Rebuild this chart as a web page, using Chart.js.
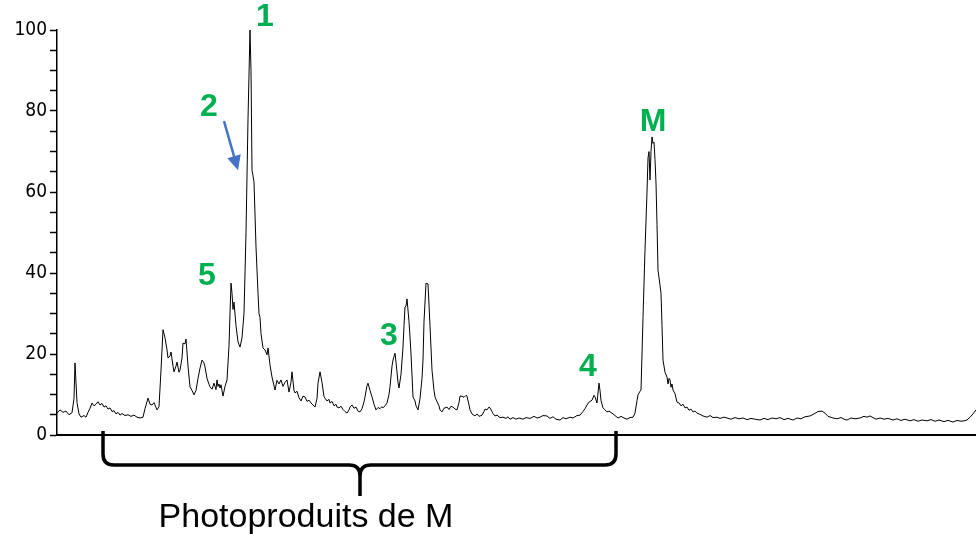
<!DOCTYPE html>
<html lang="fr">
<head>
<meta charset="utf-8">
<title>Chromatogramme</title>
<script src="https://cdn.jsdelivr.net/npm/chart.js@4.4.1/dist/chart.umd.min.js"></script>
<style>
    html, body { margin: 0; padding: 0; background: #ffffff; }
    #wrap { position: relative; width: 976px; height: 534px; }
</style>
</head>
<body>
<div id="wrap"><canvas id="chromato"></canvas></div>
<script>
// retention position (arbitrary units) and relative intensity (%)
const retention = [
    0, 3, 6, 9, 12, 15, 17, 18, 20, 22, 24, 27, 29, 31, 33, 35, 37, 39, 41, 43,
    45, 47, 49, 51, 53, 55, 57, 59, 61, 63, 65, 68, 71, 74, 77, 80, 83, 86, 88, 91,
    93, 95, 97, 100, 102, 104, 106, 108, 110, 111, 113, 114, 116, 117, 119, 120, 122, 123, 125, 126,
    128, 129, 131, 133, 135, 137, 139, 141, 143, 145, 147, 148, 150, 152, 153, 155, 157, 159, 160, 161,
    162, 163, 164, 166, 168, 170, 172, 173, 174, 175, 176, 177, 179, 181, 183, 185, 187, 189, 191, 193,
    194, 195, 196, 197, 199, 201, 202, 203, 204, 206, 208, 210, 211, 213, 215, 218, 220, 222, 224, 226,
    228, 230, 232, 234, 235, 237, 238, 240, 242, 244, 246, 248, 250, 252, 254, 256, 258, 260, 261, 263,
    265, 267, 268, 270, 272, 273, 275, 277, 279, 280, 282, 284, 286, 288, 290, 292, 293, 295, 297, 299,
    301, 303, 305, 307, 308, 310, 311, 313, 315, 317, 319, 321, 323, 325, 326, 328, 330, 332, 333, 335,
    336, 338, 339, 341, 342, 344, 346, 347, 348, 349, 350, 352, 353, 354, 356, 358, 359, 361, 363, 365,
    366, 367, 369, 371, 373, 375, 377, 378, 380, 382, 383, 385, 387, 388, 390, 392, 394, 396, 398, 400,
    402, 403, 405, 407, 409, 410, 412, 413, 415, 418, 420, 422, 425, 427, 428, 430, 432, 433, 435, 436,
    438, 440, 443, 446, 449, 451, 453, 456, 459, 462, 466, 469, 473, 477, 480, 483, 486, 490, 493, 496,
    499, 503, 506, 509, 513, 516, 520, 523, 526, 528, 530, 532, 535, 537, 538, 540, 542, 543, 544, 546,
    548, 550, 552, 555, 558, 561, 564, 567, 570, 573, 576, 578, 580, 581, 583, 584, 586, 588, 590, 591,
    592, 593, 594, 595, 596, 597, 598, 599, 600, 601, 603, 604, 605, 606, 608, 610, 611, 612, 613, 614,
    615, 616, 618, 620, 622, 624, 626, 628, 630, 632, 634, 636, 638, 640, 643, 646, 650, 653, 656, 660,
    663, 667, 670, 674, 678, 682, 686, 690, 694, 698, 703, 707, 711, 715, 719, 723, 727, 731, 736, 740,
    744, 748, 753, 757, 761, 765, 768, 771, 776, 780, 784, 788, 790, 794, 798, 803, 807, 810, 813, 816,
    819, 823, 827, 831, 836, 840, 844, 848, 853, 857, 861, 865, 870, 874, 878, 882, 887, 891, 896, 900,
    904, 907, 910, 913, 916, 919
];

const intensity = [
    5.4, 6.2, 5.6, 5.9, 5.0, 5.5, 9, 17.8, 8, 5.2, 4.4, 4.8, 4.4, 5.6, 6.6, 7.9, 7.2, 7.6, 8.2, 7.4,
    7.8, 6.9, 7.2, 6.4, 6.7, 5.8, 6.0, 5.2, 5.6, 4.9, 5.3, 4.8, 5.0, 4.6, 4.9, 4.4, 4.2, 4.4, 6.5, 9.1,
    7.6, 7.4, 8.0, 6.2, 7, 16, 26, 24, 21, 19, 19.5, 20.5, 17, 15.6, 17, 18, 15.5, 16, 19, 22.7,
    22.5, 23.7, 17, 11.9, 11, 9.9, 11, 14, 16.5, 18.5, 17.8, 16.8, 14, 12.5, 11.9, 11.3, 12.8, 11.2, 13.6, 12,
    12.6, 11.6, 12.4, 9.6, 12, 13.6, 22, 30, 37.5, 35, 31, 32.8, 27, 23, 21.7, 24, 30, 50, 78, 100,
    90, 65.4, 64, 62.5, 46.4, 35, 30, 29, 25, 21.5, 21, 19.8, 21.5, 17.3, 14.3, 11.1, 13.5, 12.6, 13.6, 12,
    13, 13.6, 10.6, 13, 15.6, 11, 10.4, 10.8, 9.2, 8.4, 9.6, 9.4, 8.3, 8.6, 7.9, 7.4, 6.9, 9, 12.8, 15.6,
    13, 9.5, 9.1, 8.4, 8.8, 7.9, 8.3, 7.2, 7.6, 6.9, 6.7, 7.1, 6.3, 5.8, 5.4, 6.2, 6.9, 7.4, 6.6, 6.9,
    5.9, 5.7, 6.5, 8.2, 9.4, 12.2, 12.8, 11, 9.4, 7.6, 6.2, 6.8, 6.5, 7, 6.7, 7.2, 7.9, 10, 11.9, 17,
    18.5, 20.2, 18, 13, 11.6, 15, 21.7, 27, 31.6, 31.8, 33.6, 28, 24.2, 20, 9.4, 8.4, 7.2, 6.2, 9, 14,
    18.5, 28, 37.5, 37.3, 27, 16, 11, 9.4, 8.2, 7.2, 6.2, 5.7, 6.6, 6.7, 6.9, 6.3, 7.1, 6.9, 6.4, 6.2,
    8, 9.6, 9.6, 9.3, 9.8, 9.6, 7.4, 6.2, 5.2, 4.7, 5.2, 4.6, 4.9, 5.8, 6.4, 6.2, 6.9, 6.7, 5.8, 5.3,
    4.7, 4.9, 4.3, 4.4, 4.1, 4.5, 3.9, 4.3, 3.9, 4.2, 3.9, 4.3, 4.1, 4.6, 4.2, 4.4, 4.8, 4.7, 4.1, 4.5,
    3.9, 3.7, 4.3, 4.0, 4.4, 4.2, 4.8, 4.9, 5.8, 6.5, 7.4, 8.1, 8.6, 9.8, 9.4, 7.9, 12.8, 11, 8.5, 6.7,
    6.2, 5.7, 5.9, 5.4, 4.8, 4.2, 4.6, 4.2, 3.9, 4.3, 4.4, 5.4, 8.5, 9.9, 10.8, 11.1, 29, 45.7, 60, 68.4,
    70, 63, 70, 73.6, 72, 72.3, 68, 62.2, 52, 40.7, 37, 35, 27, 18.5, 15.5, 14.3, 12.6, 14, 13.6, 11.8,
    12.6, 11.1, 10.2, 8.1, 7.9, 7.2, 7.6, 6.7, 6.9, 6.1, 6.4, 5.7, 5.9, 5.4, 5.1, 4.7, 4.4, 4.8, 4.3, 4.4,
    4.1, 4.4, 4.2, 3.9, 4.3, 4.0, 4.2, 3.8, 4.1, 3.9, 3.7, 4.1, 3.8, 4.2, 4.0, 4.3, 3.8, 4.1, 3.7, 4.2,
    4.0, 4.5, 4.7, 5.2, 5.8, 5.9, 5.4, 4.6, 4.2, 4.0, 4.3, 3.8, 3.7, 4.2, 4.0, 4.2, 4.6, 4.4, 4.7, 4.3,
    3.9, 4.2, 3.9, 4.1, 3.7, 4.0, 3.6, 3.9, 3.5, 3.8, 3.4, 3.7, 3.5, 3.8, 3.4, 3.7, 3.3, 3.6, 3.2, 3.6,
    3.4, 3.5, 3.7, 4.4, 5.2, 6.2
];

const yTickLabels = [0, 20, 40, 60, 80, 100];

const peakNames = ['1', '2', '5', '3', '4', 'M'];
const peakNameRetention = [208, 152, 150, 332, 531, 596];
const peakNameIntensity = [103.2, 81, 39.3, 24.4, 16.8, 77.3];

const bracketRange = [46, 303, 559];   // left end, middle, right end
const bracketCaption = 'Photoproduits de M';

(() => {
    'use strict';

    const green = '#00b050';
    const blue = '#4472c4';

    const annotations = {
        id: 'chromatoAnnotations',
        afterDraw(chart) {
            const ctx = chart.ctx;
            const x = chart.scales.x;
            const y = chart.scales.y;
            const bottom = chart.chartArea.bottom;

            ctx.save();

            // peak names
            ctx.fillStyle = green;
            ctx.font = 'bold 32px "Liberation Sans", Arial, sans-serif';
            ctx.textAlign = 'center';
            ctx.textBaseline = 'middle';
            peakNames.forEach((name, i) => {
                ctx.fillText(name, x.getPixelForValue(peakNameRetention[i]), y.getPixelForValue(peakNameIntensity[i]));
            });

            // arrow pointing at peak 2 (shoulder of peak 1)
            const ax0 = x.getPixelForValue(167);
            const ay0 = y.getPixelForValue(77.5);
            const ax1 = x.getPixelForValue(181);
            const ay1 = y.getPixelForValue(65.4);
            const angle = Math.atan2(ay1 - ay0, ax1 - ax0);
            const head = 16;
            ctx.strokeStyle = blue;
            ctx.fillStyle = blue;
            ctx.lineWidth = 2.5;
            ctx.beginPath();
            ctx.moveTo(ax0, ay0);
            ctx.lineTo(ax1 - Math.cos(angle) * head * 0.8, ay1 - Math.sin(angle) * head * 0.8);
            ctx.stroke();
            ctx.beginPath();
            ctx.moveTo(ax1, ay1);
            ctx.lineTo(ax1 - head * Math.cos(angle - 0.45), ay1 - head * Math.sin(angle - 0.45));
            ctx.lineTo(ax1 - head * Math.cos(angle + 0.45), ay1 - head * Math.sin(angle + 0.45));
            ctx.closePath();
            ctx.fill();

            // brace under the photoproducts
            const left = x.getPixelForValue(bracketRange[0]);
            const mid = x.getPixelForValue(bracketRange[1]);
            const right = x.getPixelForValue(bracketRange[2]);
            const top = bottom - 4;
            const bar = bottom + 30;
            const tip = bottom + 61;
            const r = 11;
            ctx.strokeStyle = '#000000';
            ctx.lineWidth = 3.5;
            ctx.lineJoin = 'round';
            ctx.beginPath();
            ctx.moveTo(left, top);
            ctx.lineTo(left, bar - r);
            ctx.quadraticCurveTo(left, bar, left + r, bar);
            ctx.lineTo(mid - r, bar);
            ctx.quadraticCurveTo(mid, bar, mid, bar + r);
            ctx.lineTo(mid, tip);
            ctx.moveTo(right, top);
            ctx.lineTo(right, bar - r);
            ctx.quadraticCurveTo(right, bar, right - r, bar);
            ctx.lineTo(mid + r, bar);
            ctx.quadraticCurveTo(mid, bar, mid, bar + r);
            ctx.stroke();

            ctx.fillStyle = '#000000';
            ctx.font = '34px "Liberation Sans", Arial, sans-serif';
            ctx.textAlign = 'center';
            ctx.textBaseline = 'alphabetic';
            ctx.fillText(bracketCaption, mid - 54, bottom + 92);

            ctx.restore();
        },
    };

    const points = retention.map((t, i) => ({ x: t, y: intensity[i] }));

    new Chart(document.getElementById('chromato'), {
        type: 'line',
        data: {
            datasets: [{
                data: points,
                borderColor: '#000000',
                borderWidth: 1,
                pointRadius: 0,
                tension: 0,
                fill: false,
                clip: false,
            }],
        },
        plugins: [annotations],
        options: {
            responsive: true,
            maintainAspectRatio: false,
            animation: false,
            layout: {
                padding: { top: 30, bottom: 99, left: 0, right: 0 },
            },
            plugins: {
                legend: { display: false },
                tooltip: { enabled: false },
            },
            scales: {
                x: {
                    type: 'linear',
                    min: 0,
                    max: 919,
                    afterFit: (scale) => { scale.height = 0; },
                    ticks: { display: false },
                    grid: { display: true, drawOnChartArea: false, drawTicks: false, color: '#000000' },
                    border: { display: true, color: '#000000', width: 2 },
                },
                y: {
                    min: 0,
                    max: 100,
                    afterFit: (scale) => { scale.width = 57; },
                    ticks: {
                        stepSize: 5,
                        autoSkip: false,
                        padding: 3,
                        color: '#000000',
                        font: { family: '"Liberation Sans Narrow", "DejaVu Sans Condensed", "Liberation Sans", Arial, sans-serif', size: 19 },
                        callback: (value) => (yTickLabels.includes(value) ? String(value) : ''),
                    },
                    grid: {
                        drawOnChartArea: false,
                        drawTicks: true,
                        tickLength: 7,
                        tickWidth: 1.5,
                        tickColor: '#000000',
                    },
                    border: { display: true, color: '#000000', width: 1.5 },
                },
            },
        },
    });
})();
</script>
</body>
</html>
